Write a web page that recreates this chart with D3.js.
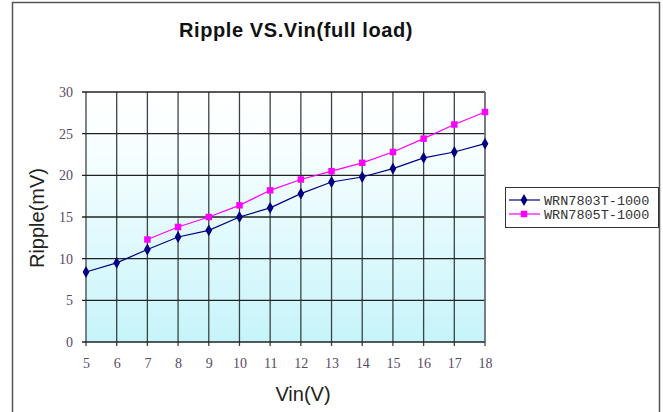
<!DOCTYPE html>
<html><head><meta charset="utf-8">
<script src="https://cdn.jsdelivr.net/npm/d3@7"></script>
<style>html,body{margin:0;padding:0;background:#fff;}svg{display:block;}</style>
</head><body>
<script>
const vin = [5,6,7,8,9,10,11,12,13,14,15,16,17,18];
const wrn7803 = [8.4,9.5,11.1,12.6,13.4,15.0,16.1,17.8,19.2,19.8,20.8,22.1,22.8,23.8];
const vin7805 = [7,8,9,10,11,12,13,14,15,16,17,18];
const wrn7805 = [12.3,13.8,15.0,16.4,18.2,19.5,20.5,21.5,22.8,24.4,26.1,27.6];
const yTicks = [0,5,10,15,20,25,30];
const seriesNames = ["WRN7803T-1000","WRN7805T-1000"];

const W=663,H=412;
const svg=d3.select("body").append("svg").attr("width",W).attr("height",H);
// outer frame
svg.append("rect").attr("x",12.5).attr("y",2.5).attr("width",647).attr("height",420)
  .attr("fill","#fff").attr("stroke","#555").attr("stroke-width",1.5);

const x=d3.scaleLinear().domain([5,18]).range([86,485]);
const y=d3.scaleLinear().domain([0,30]).range([342,92]);

const defs=svg.append("defs");
const g=defs.append("linearGradient").attr("id","bg").attr("x1",0).attr("y1",0).attr("x2",0).attr("y2",1);
g.append("stop").attr("offset","0%").attr("stop-color","#ffffff");
g.append("stop").attr("offset","25%").attr("stop-color","#f6feff");
g.append("stop").attr("offset","100%").attr("stop-color","#c6f4fa");
svg.append("rect").attr("x",x(5)).attr("y",y(30)).attr("width",x(18)-x(5)).attr("height",y(0)-y(30)).attr("fill","url(#bg)");

// grid
svg.append("g").selectAll("line").data(vin).join("line")
  .attr("x1",d=>x(d)).attr("x2",d=>x(d)).attr("y1",y(30)).attr("y2",y(0)+4)
  .attr("stroke","#3a4444").attr("stroke-width",1.3);
svg.append("g").selectAll("line").data(yTicks).join("line")
  .attr("x1",x(5)-4).attr("x2",x(18)).attr("y1",d=>y(d)).attr("y2",d=>y(d))
  .attr("stroke","#222").attr("stroke-width",1.3);
svg.append("line").attr("x1",x(18)).attr("x2",x(18)).attr("y1",y(30)).attr("y2",y(0)).attr("stroke","#778").attr("stroke-width",1.5);

// axes labels
const yAxis=d3.axisLeft(y).tickValues(yTicks).tickSize(0).tickPadding(13);
const ya=svg.append("g").attr("transform",`translate(${x(5)},0)`).call(yAxis);
ya.select(".domain").remove();
ya.selectAll("text").attr("font-family","'Liberation Serif',serif").attr("font-size",14).attr("fill","#5a4a66");
const xAxis=d3.axisBottom(x).tickValues(vin).tickSize(0).tickPadding(16).tickFormat(d3.format("d"));
const xa=svg.append("g").attr("transform",`translate(0,${y(0)})`).call(xAxis);
xa.select(".domain").remove();
xa.selectAll("text").attr("font-family","'Liberation Serif',serif").attr("font-size",14).attr("fill","#5a4a66");

svg.append("text").attr("x",296).attr("y",37).attr("text-anchor","middle")
  .attr("font-family","'Liberation Sans',Arial,sans-serif").attr("font-weight","bold").attr("font-size",20)
  .attr("letter-spacing",0.6).attr("fill","#111")
  .text("Ripple VS.Vin(full load)");
svg.append("text").attr("x",303).attr("y",401).attr("text-anchor","middle")
  .attr("font-family","'Liberation Sans',Arial,sans-serif").attr("font-size",20).attr("fill","#222")
  .text("Vin(V)");
svg.append("text").attr("transform","translate(44,218) rotate(-90)").attr("text-anchor","middle")
  .attr("font-family","'Liberation Sans',Arial,sans-serif").attr("font-size",20).attr("fill","#222")
  .text("Ripple(mV)");

const line=d3.line().x(d=>x(d[0])).y(d=>y(d[1]));
const s1=vin.map((v,i)=>[v,wrn7803[i]]);
const s2=vin7805.map((v,i)=>[v,wrn7805[i]]);
const colors=["#000080","#ff00ff"];
svg.append("path").datum(s2).attr("d",line).attr("fill","none").attr("stroke",colors[1]).attr("stroke-width",1.2);
svg.append("path").datum(s1).attr("d",line).attr("fill","none").attr("stroke",colors[0]).attr("stroke-width",1.2);
const diamond=d3.symbol().type(d3.symbolDiamond).size(40);
const square=d3.symbol().type(d3.symbolSquare).size(42);
svg.append("g").selectAll("path").data(s2).join("path").attr("d",square)
  .attr("transform",d=>`translate(${x(d[0])},${y(d[1])})`).attr("fill",colors[1]);
svg.append("g").selectAll("path").data(s1).join("path").attr("d",diamond)
  .attr("transform",d=>`translate(${x(d[0])},${y(d[1])})`).attr("fill",colors[0]);

// legend
const lg=svg.append("g");
lg.append("rect").attr("x",505.5).attr("y",187.5).attr("width",153).attr("height",40).attr("fill","#fff").attr("stroke","#333").attr("stroke-width",1);
seriesNames.forEach((n,i)=>{
  const yy=200+i*14;
  lg.append("line").attr("x1",509).attr("x2",540).attr("y1",yy).attr("y2",yy).attr("stroke",colors[i]).attr("stroke-width",1.2);
  lg.append("path").attr("d",i?square:diamond).attr("transform",`translate(524,${yy})`).attr("fill",colors[i]);
  lg.append("text").attr("x",544).attr("y",yy+4.5).attr("font-family","'Liberation Mono',monospace").attr("font-size",13.5).attr("fill","#333").text(n);
});
</script>
</body></html>
